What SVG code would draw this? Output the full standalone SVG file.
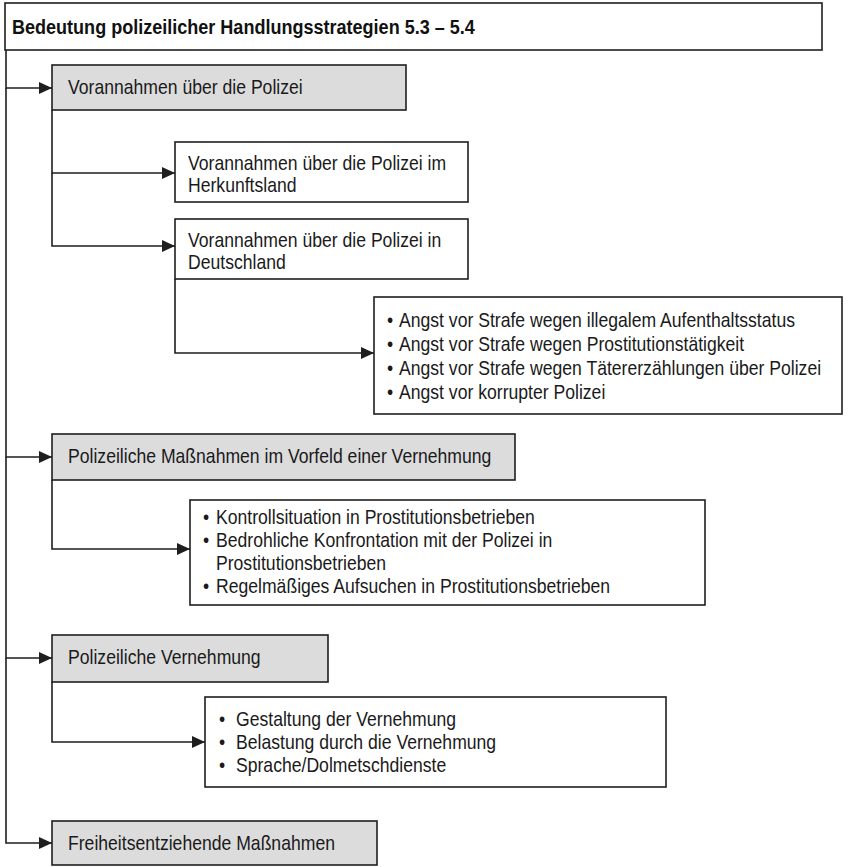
<svg xmlns="http://www.w3.org/2000/svg" width="852" height="867" viewBox="0 0 852 867">
  <style>
    .box { fill: #ffffff; stroke: #1e1e1e; stroke-width: 1.6; }
    .cat { fill: #dcdcdc; stroke: #1e1e1e; stroke-width: 1.6; }
    .t { font-family: "Liberation Sans", Arial, sans-serif; font-size: 20px; fill: #1a1a1a; }
    .h { font-family: "Liberation Sans", Arial, sans-serif; font-size: 20.5px; font-weight: bold; fill: #111111; }
    .link { fill: none; stroke: #1e1e1e; stroke-width: 1.6; marker-end: url(#arrow); }
  </style>
  <defs>
    <marker id="arrow" markerUnits="userSpaceOnUse" markerWidth="14" markerHeight="12" refX="13" refY="6" orient="auto">
      <path d="M0,0 L13,6 L0,12 Z" fill="#1e1e1e"/>
    </marker>
  </defs>
  <rect width="852" height="867" fill="#ffffff"/>

  <!-- connectors -->
  <g id="connectors">
    <path class="link" d="M6,50 V88 H52"/>
    <path class="link" d="M6,88 V457 H52"/>
    <path class="link" d="M6,457 V658 H52"/>
    <path class="link" d="M6,658 V843 H52"/>
    <path class="link" d="M52,110 V173 H175"/>
    <path class="link" d="M52,173 V246 H175"/>
    <path class="link" d="M175,279 V353 H374"/>
    <path class="link" d="M52,480 V549 H190"/>
    <path class="link" d="M52,682 V742 H205"/>
  </g>

  <!-- title (narrow type: scaled horizontally) -->
  <g id="title">
    <rect class="box" x="5" y="3" width="817" height="47"/>
    <text class="h" transform="translate(12,34) scale(0.88,1)">Bedeutung polizeilicher Handlungsstrategien 5.3 – 5.4</text>
  </g>

  <!-- Vorannahmen -->
  <g id="vorannahmen">
    <rect class="cat" x="52" y="65" width="354" height="45"/>
    <text class="t" transform="translate(68,94) scale(0.88,1)">Vorannahmen über die Polizei</text>
  </g>
  <g id="herkunftsland">
    <rect class="box" x="175" y="142" width="293" height="60"/>
    <text class="t" transform="translate(188,170) scale(0.88,1)">Vorannahmen über die Polizei im</text>
    <text class="t" transform="translate(188,192) scale(0.88,1)">Herkunftsland</text>
  </g>
  <g id="deutschland">
    <rect class="box" x="175" y="219" width="293" height="60"/>
    <text class="t" transform="translate(188,247) scale(0.88,1)">Vorannahmen über die Polizei in</text>
    <text class="t" transform="translate(188,269) scale(0.88,1)">Deutschland</text>
  </g>
  <g id="angst">
    <rect class="box" x="374" y="297" width="468" height="117"/>
    <text class="t" transform="translate(387,327) scale(0.88,1)">•</text><text class="t" transform="translate(399,327) scale(0.88,1)">Angst vor Strafe wegen illegalem Aufenthaltsstatus</text>
    <text class="t" transform="translate(387,351) scale(0.88,1)">•</text><text class="t" transform="translate(399,351) scale(0.88,1)">Angst vor Strafe wegen Prostitutionstätigkeit</text>
    <text class="t" transform="translate(387,375) scale(0.88,1)">•</text><text class="t" transform="translate(399,375) scale(0.88,1)">Angst vor Strafe wegen Tätererzählungen über Polizei</text>
    <text class="t" transform="translate(387,399) scale(0.88,1)">•</text><text class="t" transform="translate(399,399) scale(0.88,1)">Angst vor korrupter Polizei</text>
  </g>

  <!-- Maßnahmen im Vorfeld -->
  <g id="vorfeld">
    <rect class="cat" x="52" y="434" width="463" height="46"/>
    <text class="t" transform="translate(68,463) scale(0.88,1)">Polizeiliche Maßnahmen im Vorfeld einer Vernehmung</text>
  </g>
  <g id="vorfeld-punkte">
    <rect class="box" x="190" y="500" width="515" height="105"/>
    <text class="t" transform="translate(203,524) scale(0.88,1)">•</text><text class="t" transform="translate(216,524) scale(0.88,1)">Kontrollsituation in Prostitutionsbetrieben</text>
    <text class="t" transform="translate(203,547) scale(0.88,1)">•</text><text class="t" transform="translate(216,547) scale(0.88,1)">Bedrohliche Konfrontation mit der Polizei in</text>
    <text class="t" transform="translate(216,570) scale(0.88,1)">Prostitutionsbetrieben</text>
    <text class="t" transform="translate(203,593) scale(0.88,1)">•</text><text class="t" transform="translate(216,593) scale(0.88,1)">Regelmäßiges Aufsuchen in Prostitutionsbetrieben</text>
  </g>

  <!-- Vernehmung -->
  <g id="vernehmung">
    <rect class="cat" x="52" y="635" width="276" height="47"/>
    <text class="t" transform="translate(68,664) scale(0.88,1)">Polizeiliche Vernehmung</text>
  </g>
  <g id="vernehmung-punkte">
    <rect class="box" x="205" y="697" width="461" height="90"/>
    <text class="t" transform="translate(219,726) scale(0.88,1)">•</text><text class="t" transform="translate(236,726) scale(0.88,1)">Gestaltung der Vernehmung</text>
    <text class="t" transform="translate(219,749) scale(0.88,1)">•</text><text class="t" transform="translate(236,749) scale(0.88,1)">Belastung durch die Vernehmung</text>
    <text class="t" transform="translate(219,772) scale(0.88,1)">•</text><text class="t" transform="translate(236,772) scale(0.88,1)">Sprache/Dolmetschdienste</text>
  </g>

  <!-- Freiheitsentzug -->
  <g id="freiheit">
    <rect class="cat" x="52" y="821" width="325" height="44"/>
    <text class="t" transform="translate(68,850) scale(0.88,1)">Freiheitsentziehende Maßnahmen</text>
  </g>
</svg>
